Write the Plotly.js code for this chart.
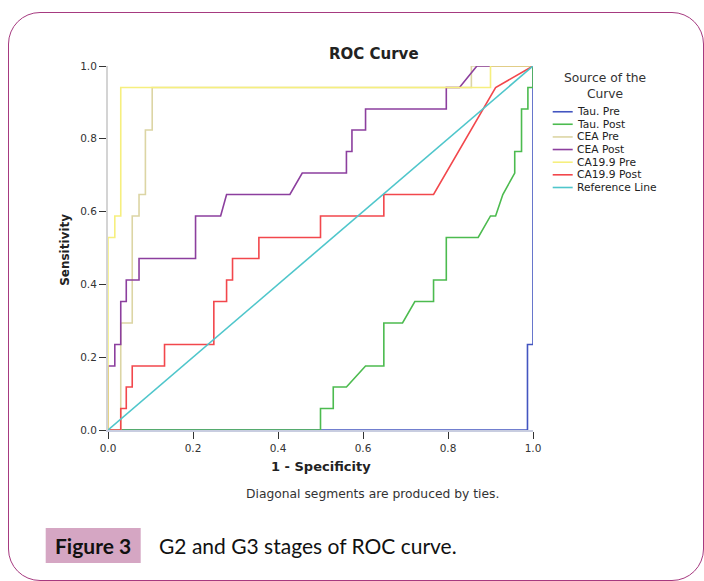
<!DOCTYPE html>
<html>
<head>
<meta charset="utf-8">
<script src="https://cdn.plot.ly/plotly-3.0.1.min.js"></script>
<style>
  html, body { margin: 0; padding: 0; background: #ffffff; }
  #frame { position: absolute; left: 8px; top: 12px; width: 696px; height: 569px;
           box-sizing: border-box; border: 1.5px solid #a63a80; border-radius: 32px; }
  #chart { position: absolute; left: 0; top: 0; width: 704px; height: 581px; }
</style>
</head>
<body>
<div id="frame"></div>
<div id="chart"></div>
<script>
// ---- data (1 - specificity, sensitivity) ----
const seriesNames = ["Tau. Pre", "Tau. Post", "CEA Pre", "CEA Post", "CA19.9 Pre", "CA19.9 Post", "Reference Line"];
const seriesColors = ["#4355c0", "#4cbb4f", "#dcd5a4", "#8c3f9e", "#f6ef7e", "#f2474c", "#4fc6cb"];

const tauPreX = [0, 0.987, 0.987, 1, 1];
const tauPreY = [0, 0, 0.235, 0.235, 1];

const tauPostX = [0, 0.50, 0.50, 0.530, 0.530, 0.561, 0.606, 0.649, 0.649, 0.693, 0.722, 0.766, 0.766, 0.796, 0.796, 0.871, 0.900, 0.912, 0.929, 0.957, 0.957, 0.973, 0.973, 0.988, 0.988, 1, 1];
const tauPostY = [0, 0, 0.059, 0.059, 0.118, 0.118, 0.176, 0.176, 0.294, 0.294, 0.353, 0.353, 0.412, 0.412, 0.529, 0.529, 0.588, 0.588, 0.647, 0.706, 0.765, 0.765, 0.882, 0.882, 0.941, 0.941, 1];

const ceaPreX = [0, 0.030, 0.030, 0.057, 0.057, 0.073, 0.073, 0.088, 0.088, 0.104, 0.104, 0.855, 0.855, 1];
const ceaPreY = [0, 0, 0.294, 0.294, 0.588, 0.588, 0.647, 0.647, 0.824, 0.824, 0.941, 0.941, 1, 1];

const ceaPostX = [0, 0, 0.016, 0.016, 0.030, 0.030, 0.043, 0.043, 0.073, 0.073, 0.206, 0.206, 0.265, 0.279, 0.428, 0.457, 0.561, 0.561, 0.574, 0.574, 0.606, 0.606, 0.796, 0.796, 0.827, 0.868, 1];
const ceaPostY = [0, 0.176, 0.176, 0.235, 0.235, 0.353, 0.353, 0.412, 0.412, 0.471, 0.471, 0.588, 0.588, 0.647, 0.647, 0.706, 0.706, 0.765, 0.765, 0.824, 0.824, 0.882, 0.882, 0.941, 0.941, 1, 1];

const ca199PreX = [0, 0, 0.016, 0.016, 0.030, 0.030, 0.900, 0.900, 1];
const ca199PreY = [0, 0.529, 0.529, 0.588, 0.588, 0.941, 0.941, 1, 1];

const ca199PostX = [0, 0.030, 0.030, 0.043, 0.043, 0.057, 0.057, 0.133, 0.133, 0.249, 0.249, 0.279, 0.279, 0.293, 0.293, 0.355, 0.355, 0.500, 0.500, 0.649, 0.649, 0.766, 0.912, 1];
const ca199PostY = [0, 0, 0.059, 0.059, 0.118, 0.118, 0.176, 0.176, 0.235, 0.235, 0.353, 0.353, 0.412, 0.412, 0.471, 0.471, 0.529, 0.529, 0.588, 0.588, 0.647, 0.647, 0.941, 1];

const refX = [0, 1];
const refY = [0, 1];

const tickVals = [0, 0.2, 0.4, 0.6, 0.8, 1.0];
const tickText = ["0.0", "0.2", "0.4", "0.6", "0.8", "1.0"];

// ---- geometry helpers (pixel -> paper) ----
const W = 704, H = 581;
const PX0 = 108.3, PX1 = 533.3, PY0 = 430, PY1 = 65.7;
const px = v => (v - PX0) / (PX1 - PX0);
const py = v => (PY0 - v) / (PY0 - PY1);

const allX = [tauPreX, tauPostX, ceaPreX, ceaPostX, ca199PreX, ca199PostX, refX];
const allY = [tauPreY, tauPostY, ceaPreY, ceaPostY, ca199PreY, ca199PostY, refY];

const traces = seriesNames.map((n, i) => ({
  type: "scatter", mode: "lines", name: n,
  x: allX[i], y: allY[i],
  line: { color: seriesColors[i], width: 1.6 },
  cliponaxis: false, showlegend: false, hoverinfo: "skip"
}));

const FONT = "DejaVu Sans, Liberation Sans, Arial, sans-serif";
const CAP = "Lato, Open Sans, sans-serif";
const annotations = [
  { text: "<b>ROC Curve</b>", x: px(374), y: py(54), font: { family: FONT, size: 15, color: "#222" } },
  { text: "<b>Sensitivity</b>", x: px(65), y: py(250), textangle: -90, font: { family: FONT, size: 12, color: "#222" } },
  { text: "<b>1 - Specificity</b>", x: px(321), y: py(467), font: { family: FONT, size: 13, color: "#222" } },
  { text: "Diagonal segments are produced by ties.", x: px(373), y: py(494), font: { family: FONT, size: 12.3, color: "#333" } },
  { text: "Source of the<br>Curve", x: px(605), y: py(85.5), font: { family: FONT, size: 12.3, color: "#333" } },
  { text: "<b>Figure 3</b>", x: px(93.5), y: py(546), font: { family: CAP, size: 21, color: "#111" } },
  { text: "G2 and G3 stages of ROC curve.", x: px(157), y: py(546), xanchor: "left", font: { family: CAP, size: 21, color: "#111" } }
].map(a => Object.assign({ xref: "paper", yref: "paper", showarrow: false, xanchor: "center", yanchor: "middle" }, a));

const shapes = [
  { type: "rect", xref: "paper", yref: "paper", x0: px(46), x1: px(141), y0: py(528), y1: py(563),
    fillcolor: "#d5a6c3", line: { width: 0 }, layer: "below" }
];

// manual compact legend
const legendRowY = [111.5, 124, 136.7, 149.3, 162, 174.6, 187.3];
seriesNames.forEach((n, i) => {
  shapes.push({ type: "line", xref: "paper", yref: "paper",
    x0: px(553), x1: px(573), y0: py(legendRowY[i]), y1: py(legendRowY[i]),
    line: { color: seriesColors[i], width: 1.6 } });
  annotations.push({ xref: "paper", yref: "paper", showarrow: false, xanchor: "left", yanchor: "middle",
    x: px(575), y: py(legendRowY[i]), text: n, font: { family: FONT, size: 10.7, color: "#222" } });
});

const axisCommon = {
  range: [0, 1], tickmode: "array", tickvals: tickVals, ticktext: tickText,
  ticks: "outside", ticklen: 7, tickwidth: 1, tickcolor: "#333",
  showgrid: false, zeroline: false, showline: true, linewidth: 2,
  tickfont: { family: FONT, size: 10.5, color: "#333" }, layer: "below traces", fixedrange: true
};

const layout = {
  width: W, height: H,
  margin: { l: PX0, r: W - PX1, t: PY1, b: H - PY0, pad: 0 },
  paper_bgcolor: "rgba(0,0,0,0)", plot_bgcolor: "rgba(0,0,0,0)",
  showlegend: false,
  xaxis: Object.assign({}, axisCommon, { linecolor: "#c8cde0" }),
  yaxis: Object.assign({}, axisCommon, { linecolor: "#d4d4d4" }),
  annotations: annotations, shapes: shapes
};

Plotly.newPlot("chart", traces, layout, { displayModeBar: false, staticPlot: true });
</script>
</body>
</html>
